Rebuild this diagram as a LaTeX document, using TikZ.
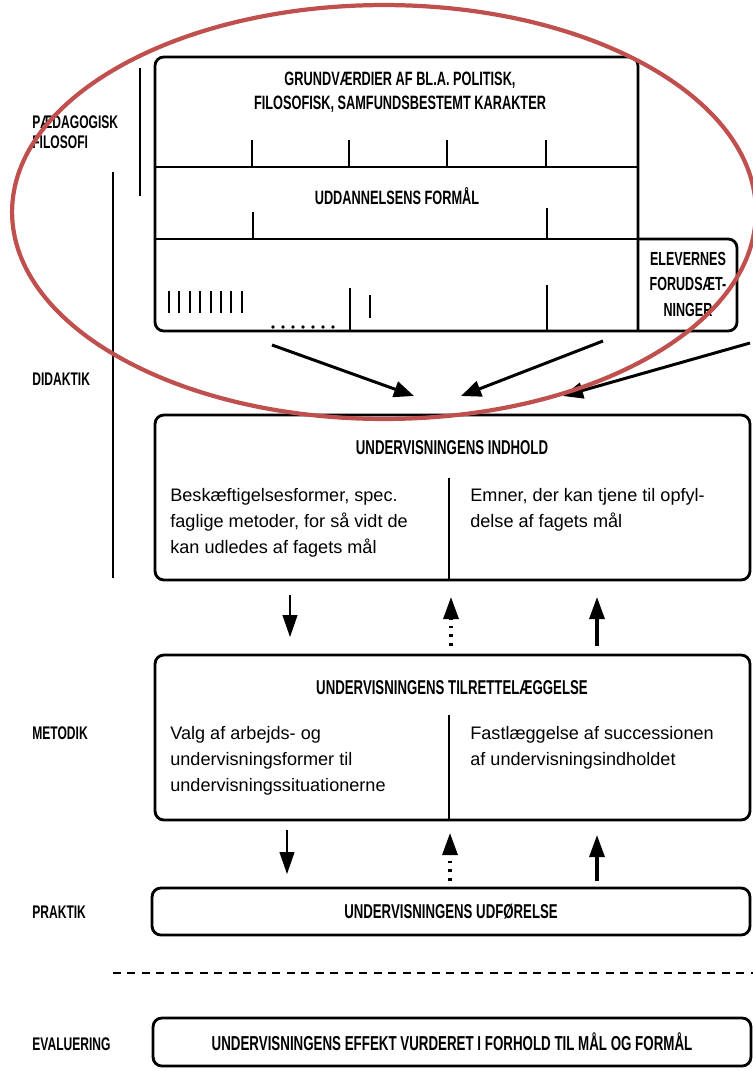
\documentclass[tikz,border=0pt]{standalone}
\usepackage{fontspec}
\setmainfont{Liberation Sans}
\newfontfamily\condfont[FakeStretch=0.66]{Liberation Sans}
\usetikzlibrary{positioning,arrows.meta}
\definecolor{ringred}{RGB}{192,80,77}

\begin{document}
\begin{tikzpicture}[x=0.02cm,y=-0.02cm,
    box/.style={draw, line width=1.6pt, rounded corners=5pt, minimum width=11.9cm, inner sep=0pt},
    head/.style={font=\condfont\bfseries\fontsize{11.4}{13.6}\selectfont, align=center},
    side/.style={font=\condfont\bfseries\fontsize{10.4}{11.5}\selectfont, anchor=west, align=left, inner sep=0pt},
    body/.style={font=\fontsize{10.3}{14.7}\selectfont, align=left, anchor=north west, inner sep=0pt},
    tick/.style={line width=1pt},
    bigarrow/.style={line width=1.7pt, -{Triangle[length=0.4cm,width=0.32cm]}},
    smallarrow/.style={-{Triangle[length=0.44cm,width=0.3cm]}}]

    \useasboundingbox (0,0) rectangle (753,1071);

    % Left margin labels
    \node[side] (paed) at (32,132) {PÆDAGOGISK\\FILOSOFI};
    \node[side] (didaktik) at (32,379) {DIDAKTIK};
    \node[side] (metodik) at (32,733) {METODIK};
    \node[side] (praktik) at (32,912) {PRAKTIK};
    \node[side] (evaluering) at (32,1044) {EVALUERING};
    \draw[line width=0.8pt] (140,68) -- (140,196);
    \draw[line width=0.8pt] (113,172) -- (113,578);

    % Top frame with the three layers
    \draw[line width=1.6pt, rounded corners=5pt] (638,331) -| (155,57) -| (638,331);
    \draw[line width=1.6pt, rounded corners=5pt] (638,239) -| (737,331) -- (638,331);
    \draw[tick] (155,167) -- (638,167);
    \draw[tick] (155,239) -- (638,239);

    \node[head, font=\condfont\bfseries\fontsize{11}{13.6}\selectfont] (grund) at (400,92) {GRUNDVÆRDIER AF BL.A. POLITISK,\\FILOSOFISK, SAMFUNDSBESTEMT KARAKTER};
    \node[head, font=\condfont\bfseries\fontsize{11}{13.6}\selectfont] (formaal) at (397,196) {UDDANNELSENS FORMÅL};
    \node[head, font=\condfont\bfseries\fontsize{10.8}{14.5}\selectfont] (elev) at (688,284) {ELEVERNES\\FORUDSÆT-\\NINGER};

    \foreach \x in {252,349,447,546}
        \draw[tick] (\x,140) -- (\x,167);
    \draw[tick] (253,212) -- (253,239);
    \draw[tick] (547,208) -- (547,239);
    \foreach \i in {0,...,7}
        \draw[line width=1.2pt] ({169+10.4*\i},291) -- ({169+10.4*\i},313);
    \foreach \i in {0,...,6}
        \fill ({273+10*\i},327) circle (1pt);
    \draw[tick] (350,288) -- (350,331);
    \draw[line width=1.2pt] (370,295) -- (370,318);
    \draw[tick] (547,285) -- (547,331);

    % Arrows into the content box
    \coordinate (a1) at (272,345);
    \coordinate (a2) at (603,341);
    \coordinate (a3) at (750,343);
    \coordinate (t1) at (414,396);
    \coordinate (t2) at (461,396);
    \coordinate (t3) at (563,396);
    \draw[bigarrow] (a1) -- (t1);
    \draw[bigarrow] (a2) -- (t2);
    \draw[bigarrow] (a3) -- (t3);

    % Undervisningens indhold
    \node[box, minimum height=3.3cm] (indhold) at (452.5,497.5) {};
    \node[head] (indholdtitel) at (452,448) {UNDERVISNINGENS INDHOLD};
    \draw[tick] (449,478) -- (449,580);
    \node[body] (metoder) at (170,488) {Beskæftigelsesformer, spec.\\faglige metoder, for så vidt de\\kan udledes af fagets mål};
    \node[body] (emner) at (470,488) {Emner, der kan tjene til opfyl-\\delse af fagets mål};

    % Arrows between indhold and tilrettelaeggelse
    \coordinate (d1s) at (290,595);
    \coordinate (d1e) at (290,637);
    \coordinate (u1s) at (451,646);
    \coordinate (u1e) at (451,597);
    \coordinate (u2s) at (597,646);
    \coordinate (u2e) at (597,597);
    \draw[smallarrow, line width=0.6pt] (d1s) -- (d1e);
    \draw[smallarrow, line width=1.8pt, dash pattern=on 1.6pt off 3.4pt] (u1s) -- (u1e);
    \draw[smallarrow, line width=1.8pt] (u2s) -- (u2e);

    % Undervisningens tilrettelaeggelse
    \node[box, minimum height=3.3cm] (tilrette) at (452.5,737.5) {};
    \node[head] (tilrettetitel) at (452,688) {UNDERVISNINGENS TILRETTELÆGGELSE};
    \draw[tick] (449,715) -- (449,820);
    \node[body] (valg) at (170,726) {Valg af arbejds- og\\undervisningsformer til\\undervisningssituationerne};
    \node[body] (succession) at (470,726) {Fastlæggelse af successionen\\af undervisningsindholdet};

    % Arrows between tilrettelaeggelse and udfoerelse
    \coordinate (d2s) at (287,830);
    \coordinate (d2e) at (287,874);
    \coordinate (u3s) at (450,881);
    \coordinate (u3e) at (450,833);
    \coordinate (u4s) at (597,881);
    \coordinate (u4e) at (597,835);
    \draw[smallarrow, line width=0.6pt] (d2s) -- (d2e);
    \draw[smallarrow, line width=1.8pt, dash pattern=on 1.6pt off 3.4pt] (u3s) -- (u3e);
    \draw[smallarrow, line width=1.8pt] (u4s) -- (u4e);

    % Praktik and evaluering
    \node[box, head, minimum width=11.96cm, minimum height=0.94cm] (udfoer) at (451,911.5) {UNDERVISNINGENS UDFØRELSE};
    \draw[line width=1pt, dash pattern=on 0.16cm off 0.13cm] (113,973) -- (753,973);
    \node[box, head, font=\condfont\bfseries\fontsize{11.5}{13.6}\selectfont, minimum width=11.96cm, minimum height=0.96cm] (effekt) at (452,1042) {UNDERVISNINGENS EFFEKT VURDERET I FORHOLD TIL MÅL OG FORMÅL};

    % Red ring round the top part
    \draw[ringred, line width=2.4pt] (384,212) ellipse [x radius=7.44cm, y radius=4.14cm];
\end{tikzpicture}
\end{document}
